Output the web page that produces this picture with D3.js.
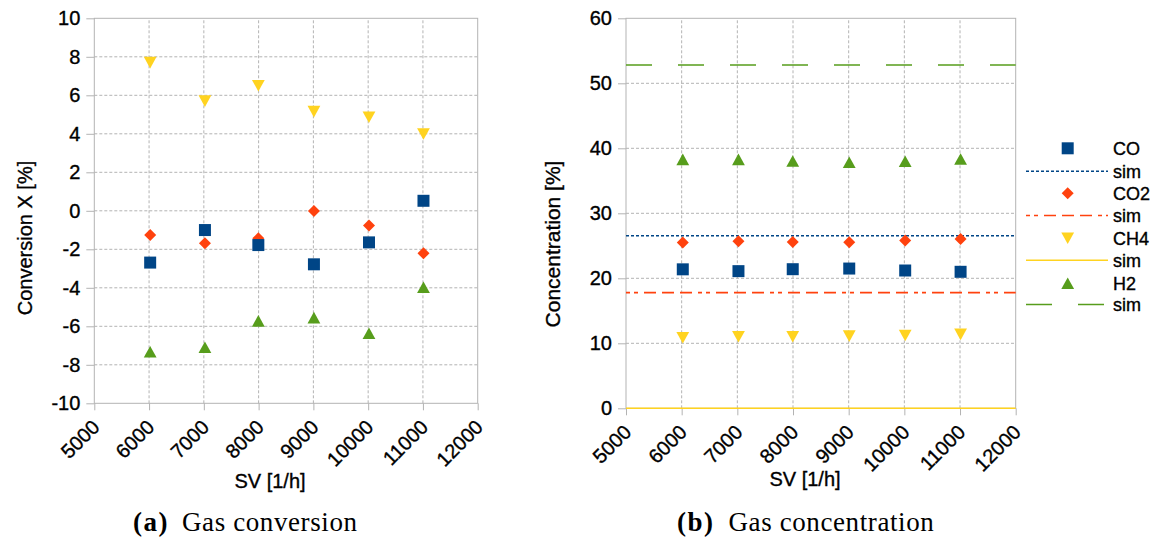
<!DOCTYPE html>
<html>
<head>
<meta charset="utf-8">
<script src="https://cdn.jsdelivr.net/npm/d3@7/dist/d3.min.js"></script>
<style>
  html, body { margin: 0; padding: 0; background: #ffffff; }
  svg { display: block; }
  .sans { font-family: "Liberation Sans", Arial, sans-serif; fill: #000; stroke: #000; stroke-width: 0.35px; }
  .serif { font-family: "Liberation Serif", "Times New Roman", serif; fill: #000; }
</style>
</head>
<body>
<svg id="chart" width="1159" height="540"></svg>
<script>
// ---------------- DATA ----------------
const sv = [6020, 7020, 7995, 9010, 10015, 11010];

// (a) Gas conversion [%]
const convCO  = [-2.69, -1.00, -1.78, -2.78, -1.64, 0.52];
const convCO2 = [-1.26, -1.69, -1.43, -0.01, -0.77, -2.21];
const convCH4 = [7.70, 5.70, 6.50, 5.15, 4.86, 3.99];
const convH2  = [-7.32, -7.09, -5.72, -5.55, -6.36, -3.97];

// (b) Gas concentration [%]
const concCO  = [21.38, 21.10, 21.40, 21.50, 21.20, 21.00];
const concCO2 = [25.50, 25.70, 25.60, 25.55, 25.80, 26.05];
const concCH4 = [10.86, 11.00, 11.00, 11.10, 11.20, 11.38];
const concH2  = [38.30, 38.30, 38.05, 37.85, 38.00, 38.35];

// simulated (constant) concentrations
const simCO = 26.55, simCO2 = 17.8, simCH4 = 0, simH2 = 52.8;

const xTicks = [5000, 6000, 7000, 8000, 9000, 10000, 11000, 12000];
const yTicksA = [-10, -8, -6, -4, -2, 0, 2, 4, 6, 8, 10];
const yTicksB = [0, 10, 20, 30, 40, 50, 60];
const legendLabels = ["CO", "sim", "CO2", "sim", "CH4", "sim", "H2", "sim"];

// ---------------- STYLE ----------------
const C = { CO: "#004586", CO2: "#ff420e", CH4: "#ffd320", H2: "#579d1c" };
const gridCol = "#b3b3b3";
const fmt = d => String(d);

const svg = d3.select("#chart");

function symbolPath(type) {
  switch (type) {
    case "square":  return "M-6,-6H6V6H-6Z";
    case "diamond": return "M0,-6L6,0L0,6L-6,0Z";
    case "down":    return "M-6.4,-5.8L6.4,-5.8L0,5.8Z";
    case "up":      return "M0,-5.8L6.4,5.8L-6.4,5.8Z";
  }
}

function drawFrame(g, x, y, yTicks) {
  const [x0, x1] = x.range();
  const [y0, y1] = y.range();
  g.append("g").selectAll("line")
    .data(yTicks.slice(1, -1)).join("line")
    .attr("x1", x0).attr("x2", x1)
    .attr("y1", d => y(d)).attr("y2", d => y(d))
    .attr("stroke", gridCol).attr("stroke-width", 1).attr("stroke-dasharray", "3,2");
  g.append("g").selectAll("line")
    .data(xTicks.slice(1, -1)).join("line")
    .attr("y1", y0).attr("y2", y1)
    .attr("x1", d => x(d)).attr("x2", d => x(d))
    .attr("stroke", gridCol).attr("stroke-width", 1).attr("stroke-dasharray", "3,2");
  g.append("rect").attr("x", x0).attr("y", y1)
    .attr("width", x1 - x0).attr("height", y0 - y1)
    .attr("fill", "none").attr("stroke", gridCol).attr("stroke-width", 1);

  const ya = g.append("g").attr("transform", `translate(${x0},0)`)
    .call(d3.axisLeft(y).tickValues(yTicks).tickSize(8).tickPadding(6).tickFormat(fmt));
  ya.select(".domain").remove();
  ya.selectAll("line").attr("stroke", gridCol);
  ya.selectAll("text").attr("class", "sans").attr("font-size", 20).attr("fill", null);
  ya.attr("font-family", null).attr("font-size", null);

  const xa = g.append("g").attr("transform", `translate(0,${y0})`)
    .call(d3.axisBottom(x).tickValues(xTicks).tickSize(7).tickFormat(fmt));
  xa.select(".domain").remove();
  xa.selectAll("line").attr("stroke", gridCol);
  xa.selectAll("text")
    .attr("y", null).attr("dy", null)
    .attr("text-anchor", "end")
    .attr("transform", "translate(6,25) rotate(-45)")
    .attr("class", "sans").attr("font-size", 20).attr("fill", null);
  xa.attr("font-family", null).attr("font-size", null);
}

function drawPoints(g, x, y, vals, type, color) {
  g.append("g").selectAll("path")
    .data(vals).join("path")
    .attr("d", symbolPath(type))
    .attr("transform", (d, i) => `translate(${x(sv[i])},${y(d)})`)
    .attr("fill", color);
}

// ================= (a) =================
const xA = d3.scaleLinear([5000, 12000], [94.3, 477.7]);
const yA = d3.scaleLinear([-10, 10], [403.3, 18.3]);
const gA = svg.append("g");
drawFrame(gA, xA, yA, yTicksA);
drawPoints(gA, xA, yA, convCH4, "down", C.CH4);
drawPoints(gA, xA, yA, convH2, "up", C.H2);
drawPoints(gA, xA, yA, convCO2, "diamond", C.CO2);
drawPoints(gA, xA, yA, convCO, "square", C.CO);

gA.append("text").attr("class", "sans").attr("transform", "translate(32,238) rotate(-90)")
  .attr("text-anchor", "middle").attr("font-size", 20).text("Conversion X [%]");
gA.append("text").attr("class", "sans").attr("x", 270).attr("y", 488)
  .attr("text-anchor", "middle").attr("font-size", 20).text("SV [1/h]");

// ================= (b) =================
const xB = d3.scaleLinear([5000, 12000], [626, 1015.7]);
const yB = d3.scaleLinear([0, 60], [408.3, 18.3]);
const gB = svg.append("g");
drawFrame(gB, xB, yB, yTicksB);

function simLine(g, val, color, dash, width) {
  const l = g.append("line")
    .attr("x1", xB.range()[0]).attr("x2", xB.range()[1])
    .attr("y1", yB(val)).attr("y2", yB(val))
    .attr("stroke", color).attr("stroke-width", width);
  if (dash) l.attr("stroke-dasharray", dash);
}
const dashCO = "3,2";
const dashCO2 = "4,4,4,6,12,6,12,6,12,6";
const dashH2 = "26,26";
simLine(gB, simCH4, C.CH4, null, 1.5);
simLine(gB, simCO2, C.CO2, dashCO2, 1.6);
simLine(gB, simCO, C.CO, dashCO, 1.4);
simLine(gB, simH2, C.H2, dashH2, 1.5);

drawPoints(gB, xB, yB, concCH4, "down", C.CH4);
drawPoints(gB, xB, yB, concH2, "up", C.H2);
drawPoints(gB, xB, yB, concCO2, "diamond", C.CO2);
drawPoints(gB, xB, yB, concCO, "square", C.CO);

gB.append("text").attr("class", "sans").attr("transform", "translate(560,244) rotate(-90)")
  .attr("text-anchor", "middle").attr("font-size", 21).text("Concentration [%]");
gB.append("text").attr("class", "sans").attr("x", 805).attr("y", 486)
  .attr("text-anchor", "middle").attr("font-size", 20).text("SV [1/h]");

// ---------------- legend ----------------
const legRows = [148.3, 171.3, 193.3, 215.5, 238.3, 260.3, 283.3, 304.5];
const legItems = [
  { kind: "sym", type: "square", color: C.CO },
  { kind: "line", color: C.CO, dash: dashCO, w: 1.4 },
  { kind: "sym", type: "diamond", color: C.CO2 },
  { kind: "line", color: C.CO2, dash: dashCO2, w: 1.6 },
  { kind: "sym", type: "down", color: C.CH4 },
  { kind: "line", color: C.CH4, dash: null, w: 1.5 },
  { kind: "sym", type: "up", color: C.H2 },
  { kind: "line", color: C.H2, dash: dashH2, w: 1.5 },
];
const gL = svg.append("g");
legItems.forEach((it, i) => {
  const yy = legRows[i];
  if (it.kind === "sym") {
    gL.append("path").attr("d", symbolPath(it.type))
      .attr("transform", `translate(1067.7,${yy})`).attr("fill", it.color);
  } else {
    const l = gL.append("line").attr("x1", 1026).attr("x2", 1108)
      .attr("y1", yy).attr("y2", yy)
      .attr("stroke", it.color).attr("stroke-width", it.w);
    if (it.dash) l.attr("stroke-dasharray", it.dash);
  }
  gL.append("text").attr("class", "sans").attr("x", 1113).attr("y", yy).attr("dy", "0.36em")
    .attr("font-size", 18).text(legendLabels[i]);
});

// ---------------- captions ----------------
function caption(x1, lab, x2, txt) {
  svg.append("text").attr("class", "serif").attr("x", x1).attr("y", 531)
    .attr("font-weight", "bold")
    .attr("font-size", 27).attr("letter-spacing", 1.5).text(lab);
  svg.append("text").attr("class", "serif").attr("x", x2).attr("y", 531)
    .attr("font-size", 27)
    .attr("letter-spacing", 0.6).text(txt);
}
caption(133, "(a)", 182, "Gas conversion");
caption(677, "(b)", 728.5, "Gas concentration");
</script>
</body>
</html>
